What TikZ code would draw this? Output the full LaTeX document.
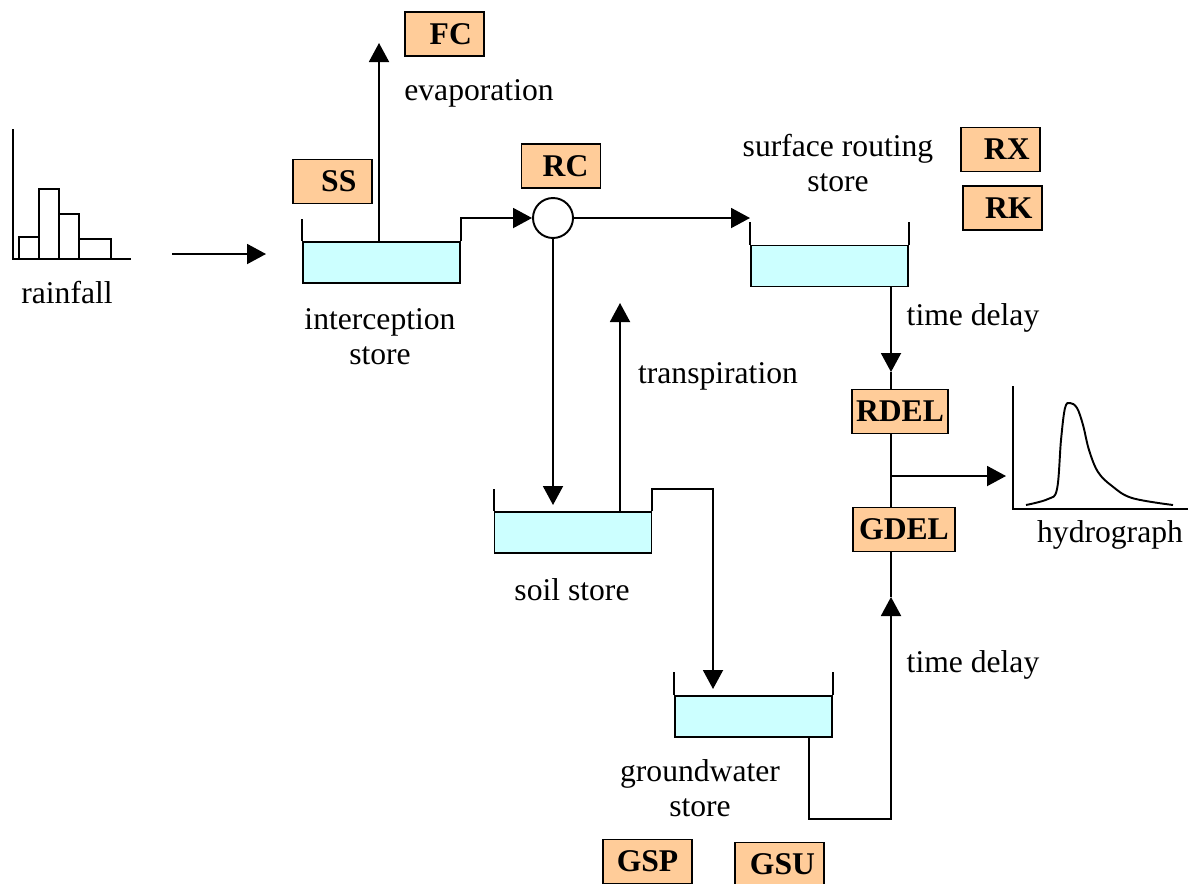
\documentclass[tikz,border=0pt]{standalone}
\usepackage{fontspec}
\setmainfont{Liberation Serif}
\usetikzlibrary{arrows.meta}
\definecolor{paramorange}{RGB}{255,204,153}
\definecolor{watercyan}{RGB}{204,255,255}
\tikzstyle{param} = [rectangle, minimum width=1.58cm, minimum height=0.88cm, inner sep=0.08cm, text centered, draw=black, fill=paramorange, font=\fontsize{18}{20}\selectfont\bfseries]
\tikzstyle{store} = [rectangle, minimum width=3.14cm, minimum height=0.82cm, inner sep=0pt, draw=black, fill=watercyan]
\tikzstyle{note} = [align=center, font=\fontsize{18}{20}\selectfont]
\tikzstyle{arrow} = [-{Triangle[length=0.38cm,width=0.4cm]}]

\begin{document}
\begin{tikzpicture}
[x=0.02cm, y=-0.02cm, line width=1.1pt]
\useasboundingbox (0,0) rectangle (1192,883);

% stores
\node (intercept) [store] at (381.5,262.5) {};
\node (surface) [store] at (829.5,266) {};
\node (soil) [store] at (573,532.5) {};
\node (ground) [store] at (753.5,716.5) {};
\node (junction) [circle, draw, fill=white, minimum size=0.8cm, inner sep=0pt] at (553,218) {};

% parameters
\node (fc) [param] at (444.5,34) {\hspace*{0.25cm}FC};
\node (ss) [param] at (332.5,181.5) {\hspace*{0.25cm}SS};
\node (rc) [param] at (561,166) {\hspace*{0.18cm}RC};
\node (rx) [param] at (1000.5,149.5) {\hspace*{0.25cm}RX};
\node (rk) [param] at (1002.5,208) {\hspace*{0.25cm}RK};
\node (rdel) [param] at (900,411.5) {RDEL};
\node (gdel) [param, minimum width=2.04cm] at (904,529.5) {GDEL};
\node (gsp) [param, minimum width=1.78cm] at (647.5,861.5) {GSP};
\node (gsu) [param, minimum width=1.78cm] at (779.5,864.5) {\hspace*{0.12cm}GSU};

% labels
\node (rainlabel) [note] at (67,293) {rainfall};
\node (evaplabel) [note] at (479,93) {evaporation};
\node (interlabel) [note] at (380,337) {interception\\store};
\node (surflabel) [note] at (838,163) {surface routing\\store};
\node (delaytop) [note] at (973,318) {time delay};
\node (translabel) [note] at (718,376) {transpiration};
\node (soillabel) [note] at (572,590) {soil store};
\node (gwlabel) [note] at (700,788) {groundwater\\store};
\node (delaybot) [note] at (973,665) {time delay};
\node (hydlabel) [note] at (1110,535) {hydrograph};

% rainfall histogram
\draw (13,129) -- (13,259) -- (131,259);
\draw (19,259) rectangle (39,237);
\draw (39,259) rectangle (59,189);
\draw (59,259) rectangle (79,214);
\draw (79,259) rectangle (111,239);

% hydrograph
\draw (1013,386) -- (1013,509) -- (1188,509);
\draw plot[smooth, tension=0.6] coordinates {(1026,505) (1048,499) (1057,489) (1061,440) (1065,408) (1070,403) (1077,408) (1083,425) (1089,450) (1098,472) (1112,486) (1132,498) (1173,505)};

% store walls
\draw (intercept.north west) -- ++(0,-22);
\draw (surface.north west) -- ++(0,-23);
\draw (surface.north east) -- ++(0,-23);
\draw (soil.north west) -- ++(0,-22);
\draw (ground.north west) -- ++(0,-23);
\draw (ground.north east) -- ++(0,-23);

\coordinate (rainout) at (172,254);
\coordinate (rainin) at (266,254);
\coordinate (evaptop) at (379,43);
\coordinate (surfin) at (750,218);
\coordinate (soilin) at (553,505);
\coordinate (transtop) at (620,303);
\coordinate (gwin) at (713,689);
\coordinate (rdelin) at (891,372);
\coordinate (branch) at (891,476);
\coordinate (hydin) at (1006,476);
\coordinate (gwbend) at (809,819);
\coordinate (gdelin) at (891,597);

% flows
\draw [arrow] (rainout) -- (rainin);
\draw [arrow] (intercept.north -| evaptop) -- (evaptop);
\draw [arrow] (intercept.north east) |- (junction.west);
\draw [arrow] (junction.east) -- (surfin);
\draw [arrow] (junction.south) -- (soilin);
\draw [arrow] (soil.north -| transtop) -- (transtop);
\draw [arrow] (soil.north east) -- ++(0,-22) -| (gwin);
\draw [arrow] (surface.south -| rdelin) -- (rdelin);
\draw (rdelin) -- (rdel.north -| rdelin);
\draw (rdel.south -| branch) -- (gdel.north -| branch);
\draw [arrow] (branch) -- (hydin);
\draw [arrow] (ground.south -| gwbend) -- (gwbend) -| (gdelin);
\draw (gdelin) -- (gdel.south -| gdelin);

\end{tikzpicture}
\end{document}
